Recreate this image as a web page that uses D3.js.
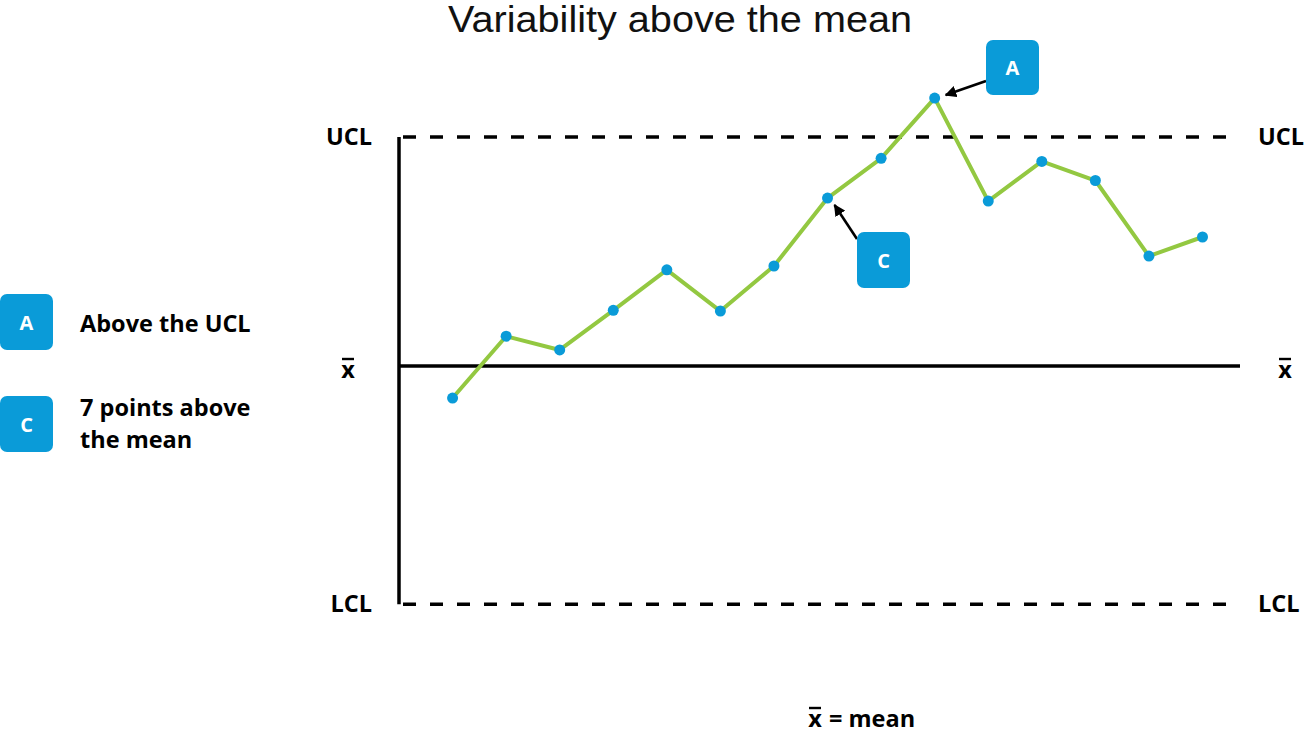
<!DOCTYPE html>
<html>
<head>
<meta charset="utf-8">
<script src="https://cdn.jsdelivr.net/npm/d3@7"></script>
<style>
  html, body { margin: 0; padding: 0; background: #fff; }
  svg { display: block; }
</style>
</head>
<body>
<svg id="chart" width="1310" height="734"></svg>
<script>
// ---- data ----
const title = "Variability above the mean";
const samples = [1,2,3,4,5,6,7,8,9,10,11,12,13,14,15];
const values = [-0.42, 0.39, 0.21, 0.73, 1.26, 0.72, 1.31, 2.20, 2.72, 3.51, 2.16, 2.68, 2.43, 1.44, 1.69];
const limitNames = ["UCL", "mean", "LCL"];
const limitValues = [3.0, 0.0, -3.12];
const legendKeys = ["A", "C"];
const legendTexts = [["Above the UCL"], ["7 points above", "the mean"]];
const annotatedSample = { A: 10, C: 8 };
const footnote = "= mean";

// ---- styles ----
const BLUE = "#0a9bd8";
const GREEN = "#93c841";
const labelFont = "'Open Sans', Lato, sans-serif";

const svg = d3.select("#chart");

const x = d3.scaleLinear().domain([0, 15.7]).range([399, 1240]);
const y = d3.scaleLinear().domain([0, 3]).range([366, 137]);

// title
svg.append("text")
  .attr("x", 448).attr("y", 32)
  .attr("font-family", "'Liberation Sans', Arial, sans-serif")
  .attr("font-size", 36)
  .attr("textLength", 464).attr("lengthAdjust", "spacingAndGlyphs")
  .attr("fill", "#111")
  .text(title);

// control limit lines
const yU = y(limitValues[0]), yM = y(limitValues[1]), yL = y(limitValues[2]);
svg.append("line")
  .attr("x1", x(0)).attr("x2", x(0)).attr("y1", yU).attr("y2", yL)
  .attr("stroke", "#000").attr("stroke-width", 3.5);
[yU, yL].forEach(yy => {
  svg.append("line")
    .attr("x1", x(0) + 4).attr("x2", x(15.7)).attr("y1", yy).attr("y2", yy)
    .attr("stroke", "#000").attr("stroke-width", 3.5)
    .attr("stroke-dasharray", "13,14");
});
svg.append("line")
  .attr("x1", x(0)).attr("x2", x(15.7)).attr("y1", yM).attr("y2", yM)
  .attr("stroke", "#000").attr("stroke-width", 3.5);

// labels
const lblSize = 23.5;
function label(g, tx, ty, t, anchor) {
  return g.append("text").attr("x", tx).attr("y", ty)
    .attr("text-anchor", anchor || "start")
    .attr("font-family", labelFont).attr("font-weight", "bold")
    .attr("font-size", lblSize).attr("fill", "#000").text(t);
}
function xbar(g, cx, baseline) {
  label(g, cx, baseline, "x", "middle");
  g.append("line")
    .attr("x1", cx - 6).attr("x2", cx + 6)
    .attr("y1", baseline - 19).attr("y2", baseline - 19)
    .attr("stroke", "#000").attr("stroke-width", 2.4);
}
[[yU, "UCL"], [yL, "LCL"]].forEach(([yy, t]) => {
  label(svg, 372, yy + 8, t, "end");
  label(svg, 1258, yy + 8, t, "start");
});
xbar(svg, 348, yM + 12);
xbar(svg, 1285, yM + 12);

// series line
const line = d3.line().x((d, i) => x(samples[i])).y(d => y(d));
svg.append("path").datum(values)
  .attr("d", line).attr("fill", "none")
  .attr("stroke", GREEN).attr("stroke-width", 4)
  .attr("stroke-linejoin", "round");
svg.selectAll("circle.pt").data(values).enter().append("circle")
  .attr("class", "pt")
  .attr("cx", (d, i) => x(samples[i])).attr("cy", d => y(d))
  .attr("r", 5.5).attr("fill", BLUE);

// arrow marker
const defs = svg.append("defs");
defs.append("marker").attr("id", "ah")
  .attr("viewBox", "0 0 10 10").attr("refX", 9).attr("refY", 5)
  .attr("markerWidth", 4.5).attr("markerHeight", 4.5)
  .attr("markerUnits", "strokeWidth")
  .attr("orient", "auto")
  .append("path").attr("d", "M0,0 L10,5 L0,10 z").attr("fill", "#000");

function badge(g, bx, by, key, w, h) {
  g.append("rect").attr("x", bx).attr("y", by).attr("width", w).attr("height", h)
    .attr("rx", 7).attr("fill", BLUE);
  g.append("text").attr("x", bx + w / 2).attr("y", by + h / 2 + 7.5)
    .attr("text-anchor", "middle")
    .attr("font-family", labelFont).attr("font-weight", "bold")
    .attr("font-size", 20).attr("fill", "#fff").text(key);
}

// annotation A
const iA = samples.indexOf(annotatedSample.A);
const pA = [x(samples[iA]), y(values[iA])];
svg.append("line").attr("x1", 986).attr("y1", 81).attr("x2", pA[0] + 11).attr("y2", pA[1] - 3)
  .attr("stroke", "#000").attr("stroke-width", 2.6).attr("marker-end", "url(#ah)");
badge(svg, 986, 40, "A", 53, 55);

// annotation C
const iC = samples.indexOf(annotatedSample.C);
const pC = [x(samples[iC]), y(values[iC])];
svg.append("line").attr("x1", 857).attr("y1", 239).attr("x2", pC[0] + 7).attr("y2", pC[1] + 7)
  .attr("stroke", "#000").attr("stroke-width", 2.6).attr("marker-end", "url(#ah)");
badge(svg, 857, 232, "C", 53, 56);

// legend
const legendY = [294, 396];
const legendBase = [[332], [416, 448]];
legendKeys.forEach((k, i) => {
  badge(svg, 0, legendY[i], k, 53, 56);
  legendTexts[i].forEach((t, j) => label(svg, 80, legendBase[i][j], t));
});

// footnote
xbar(svg, 815, 727);
label(svg, 829, 727, footnote);
</script>
</body>
</html>
